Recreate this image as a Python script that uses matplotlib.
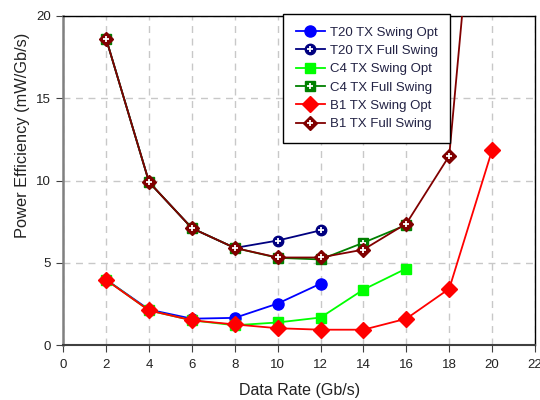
import matplotlib
matplotlib.use("Agg")
import matplotlib.pyplot as plt

plt.rcParams['font.family'] = ['Liberation Sans', 'DejaVu Sans']

# Data
t20_x = [2, 4, 6, 8, 10, 12]
t20_opt = [3.97, 2.15, 1.6, 1.65, 2.52, 3.73]
t20_full = [18.6, 9.9, 7.1, 5.9, 6.35, 6.97]

c4_x = [2, 4, 6, 8, 10, 12, 14, 16]
c4_opt = [3.97, 2.1, 1.5, 1.2, 1.37, 1.67, 3.37, 4.65]
c4_full = [18.6, 9.9, 7.1, 5.9, 5.3, 5.2, 6.22, 7.3]

b1_x = [2, 4, 6, 8, 10, 12, 14, 16, 18, 20]
b1_opt = [3.95, 2.1, 1.5, 1.25, 1.02, 0.93, 0.93, 1.6, 3.42, 11.85]
b1_full = [18.6, 9.9, 7.1, 5.9, 5.32, 5.32, 5.8, 7.38, 11.5, 40.0]

labels = ["T20 TX Swing Opt", "T20 TX Full Swing", "C4 TX Swing Opt",
          "C4 TX Full Swing", "B1 TX Swing Opt", "B1 TX Full Swing"]
xticks = list(range(0, 23, 2))
yticks = [0, 5, 10, 15, 20]

fig = plt.figure(figsize=(5.4, 4.0), dpi=100)
ax = fig.add_axes([63.3/540, 1-345/400, 471.7/540, 329/400])

series = [
    (t20_x, t20_opt, '#0000ff', 'o', 8, False),
    (t20_x, t20_full, '#000080', 'o', 7.5, True),
    (c4_x, c4_opt, '#00ff00', 's', 7.5, False),
    (c4_x, c4_full, '#008000', 's', 7.5, True),
    (b1_x, b1_opt, '#ff0000', 'D', 8, False),
    (b1_x, b1_full, '#800000', 'D', 7.5, True),
]

handles = []
for i, (x, y, c, m, ms, full) in enumerate(series):
    ln, = ax.plot(x, y, color=c, marker=m, markersize=ms, lw=1.3,
                  markeredgecolor=c, zorder=3 + i, clip_on=True)
    if full:
        pl, = ax.plot(x, y, ls='none', marker='+', markersize=4.5,
                      markeredgewidth=1.3, color='white', zorder=3 + i)
        handles.append((ln, pl))
    else:
        handles.append(ln)

ax.set_xlim(0, 22)
ax.set_ylim(0, 20)
ax.set_xticks(xticks)
ax.set_yticks(yticks)
ax.grid(True, color='#c8c8c8', ls=(0, (5, 4)), lw=1.0)
ax.set_axisbelow(True)

for s in ['top', 'right']:
    ax.spines[s].set_color('black')
    ax.spines[s].set_linewidth(1.0)
ax.spines['left'].set_color('#808080')
ax.spines['left'].set_linewidth(1.8)
ax.spines['bottom'].set_color('#404040')
ax.spines['bottom'].set_linewidth(1.5)
ax.tick_params(axis='both', labelsize=9.5, direction='out', length=5,
               color='#404040', labelcolor='#222222')
ax.tick_params(axis='y', pad=4)
ax.tick_params(axis='x', pad=5)

ax.set_xlabel("Data Rate (Gb/s)", fontsize=11.5, color='#222222', labelpad=9)
ax.set_ylabel("Power Efficiency (mW/Gb/s)", fontsize=11.8, color='#222222')
ax.yaxis.set_label_coords((30 - 63.3) / 471.7, 0.637)

leg = ax.legend(handles, labels, loc='upper left',
                bbox_to_anchor=((283 - 63.3) / 471.7, 1.006),
                borderaxespad=0, fontsize=9.5, frameon=True, fancybox=False,
                shadow=False, handlelength=2.2, labelspacing=0.46,
                borderpad=0.95, handletextpad=0.4, labelcolor='#222244')
leg.get_frame().set_edgecolor('black')
leg.get_frame().set_linewidth(1.0)
leg.get_frame().set_alpha(1)
leg.set_zorder(20)

fig.savefig("out.png", dpi=100)
